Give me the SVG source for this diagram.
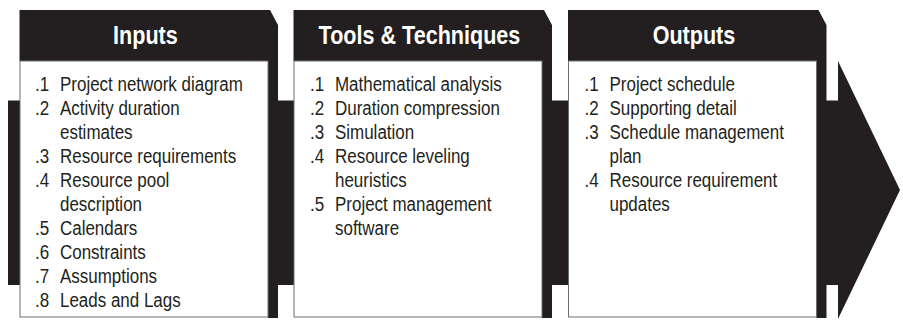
<svg xmlns="http://www.w3.org/2000/svg" width="903" height="320" viewBox="0 0 903 320">
  <style>
    .blk { fill: #231f20; }
    .body { fill: #ffffff; stroke: #6d6e71; stroke-width: 1; }
    .hd { font-family: "Liberation Sans", Arial, sans-serif; font-weight: bold; font-size: 25.5px; fill: #ffffff; text-anchor: middle; }
    .it { font-family: "Liberation Sans", Arial, sans-serif; font-size: 19.5px; fill: #231f20; }
  </style>
  <g id="flow-arrow">
    <polygon class="blk" points="8,100.5 838,100.5 838,61 900,190 838,319 838,285 8,285"/>
  </g>
  <g id="inputs" transform="translate(19.5,0)">
    <path class="blk" d="M0,10 H250.5 L258.5,25 V318 H248.5 V61 H0 Z"/>
    <rect class="body" x="0.5" y="61" width="248" height="256"/>
    <text class="hd" transform="scale(0.846,1)" x="148.9" y="44.5">Inputs</text>
    <g class="it" transform="scale(0.87,1)">
      <text x="17.8" y="90.7">.1</text><text x="46.55" y="90.7">Project network diagram</text>
      <text x="17.8" y="114.7">.2</text><text x="46.55" y="114.7">Activity duration</text>
      <text x="46.55" y="138.7">estimates</text>
      <text x="17.8" y="162.7">.3</text><text x="46.55" y="162.7">Resource requirements</text>
      <text x="17.8" y="186.7">.4</text><text x="46.55" y="186.7">Resource pool</text>
      <text x="46.55" y="210.7">description</text>
      <text x="17.8" y="234.7">.5</text><text x="46.55" y="234.7">Calendars</text>
      <text x="17.8" y="258.7">.6</text><text x="46.55" y="258.7">Constraints</text>
      <text x="17.8" y="282.7">.7</text><text x="46.55" y="282.7">Assumptions</text>
      <text x="17.8" y="306.7">.8</text><text x="46.55" y="306.7">Leads and Lags</text>
    </g>
  </g>
  <g id="tools" transform="translate(293.5,0)">
    <path class="blk" d="M0,10 H250.5 L258.5,25 V318 H248.5 V61 H0 Z"/>
    <rect class="body" x="0.5" y="61" width="248" height="256"/>
    <text class="hd" transform="scale(0.846,1)" x="148.9" y="44.5">Tools &amp; Techniques</text>
    <g class="it" transform="scale(0.87,1)">
      <text x="18.97" y="90.7">.1</text><text x="47.7" y="90.7">Mathematical analysis</text>
      <text x="18.97" y="114.7">.2</text><text x="47.7" y="114.7">Duration compression</text>
      <text x="18.97" y="138.7">.3</text><text x="47.7" y="138.7">Simulation</text>
      <text x="18.97" y="162.7">.4</text><text x="47.7" y="162.7">Resource leveling</text>
      <text x="47.7" y="186.7">heuristics</text>
      <text x="18.97" y="210.7">.5</text><text x="47.7" y="210.7">Project management</text>
      <text x="47.7" y="234.7">software</text>
    </g>
  </g>
  <g id="outputs" transform="translate(568,0)">
    <path class="blk" d="M0,10 H250.5 L258.5,25 V318 H248.5 V61 H0 Z"/>
    <rect class="body" x="0.5" y="61" width="248" height="256"/>
    <text class="hd" transform="scale(0.846,1)" x="148.9" y="44.5">Outputs</text>
    <g class="it" transform="scale(0.87,1)">
      <text x="18.97" y="90.7">.1</text><text x="47.7" y="90.7">Project schedule</text>
      <text x="18.97" y="114.7">.2</text><text x="47.7" y="114.7">Supporting detail</text>
      <text x="18.97" y="138.7">.3</text><text x="47.7" y="138.7">Schedule management</text>
      <text x="47.7" y="162.7">plan</text>
      <text x="18.97" y="186.7">.4</text><text x="47.7" y="186.7">Resource requirement</text>
      <text x="47.7" y="210.7">updates</text>
    </g>
  </g>
</svg>
